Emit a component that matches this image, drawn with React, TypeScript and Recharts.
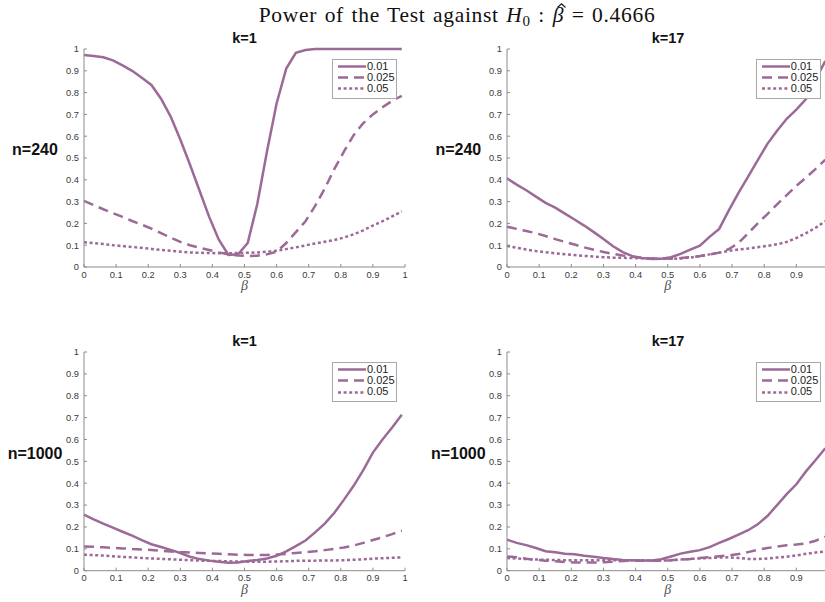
import React from 'react';
import { LineChart, Line, XAxis, YAxis, Legend } from 'recharts';

// Grid of true slope values at which the rejection rates were evaluated
const BETA = [
  0, 0.03, 0.06, 0.09, 0.12, 0.15, 0.18, 0.21, 0.24, 0.27, 0.3, 0.33, 0.36, 0.39, 0.42, 0.45, 0.48,
  0.51, 0.54, 0.57, 0.6, 0.63, 0.66, 0.69, 0.72, 0.75, 0.78, 0.81, 0.84, 0.87, 0.9, 0.93, 0.96, 0.99,
];

// Significance levels (legend entries)
const LEVELS = ['0.01', '0.025', '0.05'];

// n = 240, k = 1
const N240_K1_01 = [0.972, 0.968, 0.962, 0.948, 0.925, 0.9, 0.868, 0.835, 0.772, 0.69, 0.585, 0.47, 0.35, 0.23, 0.125, 0.055, 0.058, 0.11, 0.29, 0.53, 0.75, 0.91, 0.982, 0.995, 1, 1, 1, 1, 1, 1, 1, 1, 1, 1];
const N240_K1_025 = [0.303, 0.284, 0.265, 0.247, 0.23, 0.211, 0.194, 0.176, 0.155, 0.135, 0.115, 0.1, 0.088, 0.078, 0.067, 0.058, 0.053, 0.05, 0.052, 0.058, 0.07, 0.11, 0.16, 0.21, 0.28, 0.36, 0.45, 0.53, 0.605, 0.66, 0.7, 0.733, 0.762, 0.785];
const N240_K1_05 = [0.113, 0.11, 0.105, 0.1, 0.096, 0.092, 0.088, 0.083, 0.078, 0.074, 0.07, 0.067, 0.065, 0.064, 0.063, 0.063, 0.064, 0.065, 0.067, 0.07, 0.074, 0.082, 0.09, 0.099, 0.108, 0.116, 0.124, 0.135, 0.15, 0.168, 0.19, 0.21, 0.232, 0.255];

// n = 240, k = 17
const N240_K17_01 = [0.407, 0.378, 0.352, 0.323, 0.294, 0.272, 0.245, 0.218, 0.19, 0.16, 0.128, 0.095, 0.068, 0.05, 0.041, 0.037, 0.038, 0.045, 0.06, 0.08, 0.098, 0.138, 0.175, 0.26, 0.34, 0.415, 0.49, 0.565, 0.625, 0.68, 0.722, 0.77, 0.86, 0.945];
const N240_K17_025 = [0.185, 0.175, 0.165, 0.155, 0.142, 0.128, 0.115, 0.103, 0.09, 0.079, 0.069, 0.06, 0.053, 0.047, 0.042, 0.039, 0.038, 0.039, 0.041, 0.045, 0.05, 0.057, 0.066, 0.082, 0.11, 0.155, 0.2, 0.243, 0.287, 0.33, 0.372, 0.41, 0.45, 0.492];
const N240_K17_05 = [0.097, 0.088, 0.08, 0.073, 0.068, 0.063, 0.059, 0.055, 0.051, 0.048, 0.045, 0.043, 0.042, 0.041, 0.04, 0.039, 0.038, 0.038, 0.039, 0.043, 0.05, 0.058, 0.066, 0.074, 0.08, 0.085, 0.091, 0.097, 0.104, 0.115, 0.133, 0.155, 0.18, 0.21];

// n = 1000, k = 1
const N1000_K1_01 = [0.256, 0.235, 0.215, 0.197, 0.178, 0.16, 0.14, 0.121, 0.108, 0.095, 0.081, 0.064, 0.053, 0.046, 0.041, 0.036, 0.037, 0.044, 0.049, 0.056, 0.068, 0.088, 0.112, 0.138, 0.175, 0.215, 0.265, 0.325, 0.388, 0.46, 0.54, 0.6, 0.655, 0.713];
const N1000_K1_025 = [0.111, 0.109, 0.107, 0.104, 0.102, 0.099, 0.097, 0.095, 0.091, 0.088, 0.085, 0.083, 0.081, 0.079, 0.077, 0.075, 0.073, 0.072, 0.071, 0.072, 0.074, 0.077, 0.081, 0.085, 0.089, 0.094, 0.1, 0.106, 0.115, 0.127, 0.14, 0.153, 0.167, 0.183];
const N1000_K1_05 = [0.073, 0.071, 0.069, 0.066, 0.063, 0.061, 0.058, 0.056, 0.054, 0.052, 0.05, 0.048, 0.046, 0.045, 0.044, 0.043, 0.042, 0.041, 0.041, 0.041, 0.042, 0.043, 0.045, 0.046, 0.046, 0.047, 0.047, 0.048, 0.05, 0.052, 0.055, 0.057, 0.059, 0.061];

// n = 1000, k = 17
const N1000_K17_01 = [0.142, 0.127, 0.117, 0.104, 0.089, 0.084, 0.077, 0.075, 0.068, 0.064, 0.058, 0.053, 0.049, 0.048, 0.047, 0.047, 0.052, 0.065, 0.078, 0.087, 0.094, 0.108, 0.127, 0.145, 0.165, 0.185, 0.212, 0.25, 0.3, 0.35, 0.395, 0.454, 0.506, 0.56];
const N1000_K17_025 = [0.065, 0.062, 0.055, 0.05, 0.046, 0.043, 0.04, 0.038, 0.037, 0.037, 0.039, 0.041, 0.044, 0.046, 0.046, 0.045, 0.046, 0.048, 0.051, 0.054, 0.058, 0.062, 0.066, 0.07, 0.076, 0.085, 0.095, 0.104, 0.11, 0.116, 0.12, 0.125, 0.137, 0.155];
const N1000_K17_05 = [0.058, 0.056, 0.053, 0.051, 0.05, 0.049, 0.048, 0.048, 0.048, 0.048, 0.048, 0.048, 0.048, 0.048, 0.047, 0.046, 0.046, 0.048, 0.051, 0.054, 0.056, 0.058, 0.06, 0.061, 0.058, 0.054, 0.053, 0.056, 0.06, 0.064, 0.07, 0.077, 0.083, 0.088];

// Axis ticks; the right-hand panels run past the page edge, so their last x tick is left out
const TICKS = [0, 0.1, 0.2, 0.3, 0.4, 0.5, 0.6, 0.7, 0.8, 0.9, 1];
const TICKS_CLIPPED = [0, 0.1, 0.2, 0.3, 0.4, 0.5, 0.6, 0.7, 0.8, 0.9];

const COLOR = '#9b6a97';
const DASHES = ['0', '10 6', '3 2.6'];
const SANS = '"Liberation Sans", Arial, Helvetica, sans-serif';
const SERIF = '"Liberation Serif", "Times New Roman", serif';

const Y_W = 60; // width reserved for the y axis
const TOP = 40; // space above each plot for the panel title
const X_H = 35; // height of the x axis band
const RIGHT = 12;

function LegendBox() {
  return (
    <div
      style={{
        boxSizing: 'border-box',
        width: 65,
        height: 40,
        border: '1px solid #a8a8a8',
        background: '#fff',
        padding: '1px 0 0 5px',
        fontFamily: SANS,
        fontSize: 11,
        lineHeight: '11.3px',
        color: '#222',
      }}
    >
      {LEVELS.map((lv, i) => (
        <div key={lv} style={{ display: 'flex', alignItems: 'center', height: 11.3 }}>
          <svg width={28} height={11} style={{ display: 'block', marginRight: 1 }}>
            <line
              x1={0}
              y1={5.5}
              x2={28}
              y2={5.5}
              stroke={COLOR}
              strokeWidth={2.5}
              strokeDasharray={DASHES[i]}
            />
          </svg>
          <span>{lv}</span>
        </div>
      ))}
    </div>
  );
}

type PanelProps = {
  left: number;
  top: number;
  plotW: number;
  plotH: number;
  title: string;
  rowLabel: string;
  xTicks: number[];
  s01: number[];
  s025: number[];
  s05: number[];
};

function Panel({ left, top, plotW, plotH, title, rowLabel, xTicks, s01, s025, s05 }: PanelProps) {
  const data = BETA.map((b, i) => ({ beta: b, a: s01[i], b2: s025[i], c: s05[i] }));
  const W = Y_W + plotW + RIGHT;
  const H = TOP + plotH + X_H;
  const tickStyle = { fontSize: 9.3, fill: '#3a3a3a', fontFamily: SANS };
  return (
    <div style={{ position: 'absolute', left: left - Y_W, top: top - TOP, width: W, height: H }}>
      <LineChart width={W} height={H} data={data} margin={{ top: TOP, right: RIGHT, bottom: 0, left: 0 }}>
        <XAxis
          dataKey="beta"
          type="number"
          domain={[0, 1]}
          ticks={xTicks}
          interval={0}
          height={X_H}
          tickSize={-3}
          tickMargin={7}
          tick={tickStyle}
          stroke="#8c8c8c"
          label={{
            value: 'β',
            position: 'insideBottom',
            offset: 12,
            style: { fontFamily: SERIF, fontStyle: 'italic', fontSize: 14, fill: '#555' },
          }}
        />
        <YAxis
          type="number"
          domain={[0, 1]}
          ticks={TICKS}
          interval={0}
          width={Y_W}
          tickSize={-3}
          tickMargin={8}
          tick={tickStyle}
          stroke="#8c8c8c"
        />
        <Legend
          layout="vertical"
          align="center"
          verticalAlign="middle"
          content={() => <LegendBox />}
          wrapperStyle={{ left: Y_W + plotW - 73, top: TOP + 9.5, width: 65, height: 40 }}
        />
        <Line type="linear" dataKey="a" name={LEVELS[0]} stroke={COLOR} strokeWidth={2.5} dot={false} activeDot={false} isAnimationActive={false} />
        <Line type="linear" dataKey="b2" name={LEVELS[1]} stroke={COLOR} strokeWidth={2.5} strokeDasharray={DASHES[1]} dot={false} activeDot={false} isAnimationActive={false} />
        <Line type="linear" dataKey="c" name={LEVELS[2]} stroke={COLOR} strokeWidth={2.5} strokeDasharray={DASHES[2]} dot={false} activeDot={false} isAnimationActive={false} />
      </LineChart>
      <div
        style={{
          position: 'absolute',
          left: Y_W,
          width: plotW,
          top: TOP - 19,
          lineHeight: '17px',
          textAlign: 'center',
          fontFamily: SANS,
          fontWeight: 'bold',
          fontSize: 14.5,
          color: '#111',
        }}
      >
        {title}
      </div>
      <div
        style={{
          position: 'absolute',
          left: Y_W - 49 - 45,
          width: 90,
          top: TOP + plotH / 2 - 8 - 10,
          lineHeight: '20px',
          textAlign: 'center',
          fontFamily: SANS,
          fontWeight: 'bold',
          fontSize: 16,
          color: '#111',
          whiteSpace: 'nowrap',
        }}
      >
        {rowLabel}
      </div>
    </div>
  );
}

export default function App() {
  return (
    <div
      style={{
        position: 'fixed',
        left: 0,
        top: 0,
        width: 825,
        height: 602,
        overflow: 'hidden',
        background: '#fff',
      }}
    >
      <div
        style={{
          position: 'absolute',
          left: 0,
          width: 914,
          top: 2.7,
          textAlign: 'center',
          fontFamily: SERIF,
          fontSize: 21.5,
          lineHeight: '24px',
          letterSpacing: 0.7,
          wordSpacing: 1.5,
          color: '#111',
          whiteSpace: 'nowrap',
        }}
      >
        Power of the Test against <i>H</i>
        <span style={{ fontSize: 15, position: 'relative', top: 4 }}>0</span> :{' '}
        <span style={{ position: 'relative', display: 'inline-block' }}>
          <i>β</i>
          {/* estimator hat drawn as a small chevron */}
          <svg
            width={9}
            height={5}
            style={{ position: 'absolute', left: 4.5, top: 0.5, overflow: 'visible' }}
          >
            <polyline points="0.5,4.5 4.5,0.8 8.5,4.5" fill="none" stroke="#111" strokeWidth={1.1} />
          </svg>
        </span>{' '}
        = 0.4666
      </div>
      <Panel left={84} top={49} plotW={321} plotH={218} title="k=1" rowLabel="n=240" xTicks={TICKS} s01={N240_K1_01} s025={N240_K1_025} s05={N240_K1_05} />
      <Panel left={507.3} top={49} plotW={321.5} plotH={218} title="k=17" rowLabel="n=240" xTicks={TICKS_CLIPPED} s01={N240_K17_01} s025={N240_K17_025} s05={N240_K17_05} />
      <Panel left={84} top={352.3} plotW={321} plotH={218.7} title="k=1" rowLabel="n=1000" xTicks={TICKS} s01={N1000_K1_01} s025={N1000_K1_025} s05={N1000_K1_05} />
      <Panel left={507.3} top={352.3} plotW={321.5} plotH={218.7} title="k=17" rowLabel="n=1000" xTicks={TICKS_CLIPPED} s01={N1000_K17_01} s025={N1000_K17_025} s05={N1000_K17_05} />
    </div>
  );
}
